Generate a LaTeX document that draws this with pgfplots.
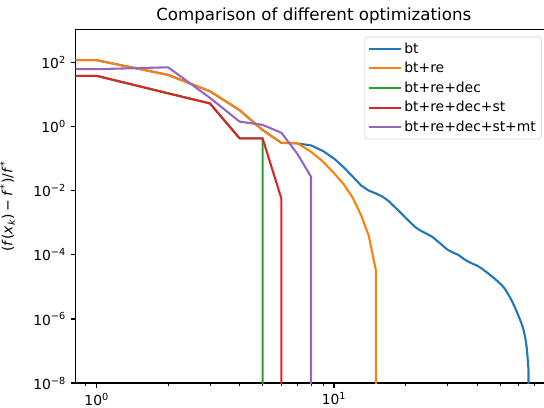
\documentclass[border=0pt]{standalone}
\usepackage{fontspec}
\setmainfont{DejaVu Sans}
\usepackage{pgfplots}
\pgfplotsset{compat=1.18}

\definecolor{cbt}{HTML}{1F77B4}
\definecolor{cre}{HTML}{FF7F0E}
\definecolor{cdec}{HTML}{2CA02C}
\definecolor{cst}{HTML}{D62728}
\definecolor{cmt}{HTML}{9467BD}

\begin{document}
\begin{tikzpicture}
\begin{axis}[
  name=ax,
  scale only axis,
  width=337.2pt, height=254.7pt,
  xmode=log, ymode=log,
  xmin=0.8155, xmax=76.7,
  ymin=1e-8, ymax=1107,
  axis y line*=left,
  axis line style={-, line width=0.8pt},
  xtick pos=left, xticklabel pos=left,
  xtick={1,10},
  xticklabels={10\textsuperscript{0},10\textsuperscript{1}},
  minor xtick={0.9,2,3,4,5,6,7,8,9,20,30,40,50,60,70},
  ytick={1e-8,1e-6,1e-4,1e-2,1,1e2},
  yticklabels={10\textsuperscript{−8},10\textsuperscript{−6},10\textsuperscript{−4},10\textsuperscript{−2},10\textsuperscript{0},10\textsuperscript{2}},
  yminorticks=false,
  tick align=outside,
  major tick length=3.5pt, minor tick length=2pt,
  major tick style={black, line width=0.8pt},
  minor tick style={black, line width=0.6pt},
  ticklabel style={font=\fontsize{10}{12}\selectfont},
  title={Comparison of different optimizations},
  every axis title/.style={at={(axis description cs:0.5084,1)}, anchor=base,
    yshift=6pt, font=\fontsize{12}{14}\selectfont},
  ylabel={(\textit{f}(\textit{x}\textsubscript{\textit{k}})\kern2pt−\kern2pt\textit{f}\textsuperscript{\kern0.5pt*})/\textit{f}\textsuperscript{\kern0.5pt*}},
  ylabel style={at={(axis description cs:-0.119,0.5)}, rotate=0, anchor=south,
    font=\fontsize{10}{12}\selectfont},
  legend cell align=left,
  legend style={at={(axis description cs:0.995,0.979)}, anchor=north east,
    draw=black!20, fill=white, rounded corners=2pt,
    font=\fontsize{10}{12}\selectfont,
    inner xsep=2pt, inner ysep=2pt, row sep=1pt},
  legend image code/.code={\draw[#1] (0pt,0pt) -- (20pt,0pt); \path (0pt,0pt) -- (23pt,0pt);},
  every axis plot/.append style={line width=1.5pt, line join=round},
]
% bt
\addplot[cbt] coordinates {
(0.5,120) (1,120) (2,41.7) (3,12.9) (4,3.31) (5,0.794) (6,0.316) (7,0.302)
(8,0.263) (9,0.174) (10,0.102) (11,0.0537) (12,0.0275) (13,0.0148) (14,0.0102)
(15,0.00832) (16,0.00661) (17,0.00479) (18,0.00316) (19,0.00214) (20,0.00145)
(21,0.00102) (22,7.41e-4) (23,5.89e-4) (24,5.01e-4) (25,4.27e-4) (26,3.63e-4)
(27,2.88e-4) (28,2.29e-4) (29,1.82e-4) (30,1.48e-4) (31,1.29e-4) (32,1.15e-4)
(33,1.05e-4) (34,9.12e-5) (35,7.76e-5) (36,6.76e-5) (37,6.03e-5) (38,5.50e-5)
(39,5.01e-5) (40,4.68e-5) (41,4.17e-5) (42,3.72e-5) (43,3.24e-5) (44,2.88e-5)
(45,2.51e-5) (46,2.19e-5) (47,1.95e-5) (48,1.70e-5) (49,1.48e-5) (50,1.29e-5)
(51,1.12e-5) (52,9.55e-6) (53,7.76e-6) (54,6.17e-6) (55,4.90e-6) (56,3.80e-6)
(57,2.88e-6) (58,2.19e-6) (59,1.62e-6) (60,1.20e-6) (61,8.91e-7) (62,6.46e-7)
(63,4.37e-7) (64,2.51e-7) (65,1.12e-7) (66,2.51e-8) (66,1e-12)
};
\addlegendentry{bt}
% bt+re
\addplot[cre] coordinates {
(0.5,120) (1,120) (2,41.7) (3,12.9) (4,3.31) (5,0.794) (6,0.316) (7,0.309)
(8,0.166) (9,0.0813) (10,0.0355) (11,0.0158) (12,6.03e-3) (13,1.74e-3)
(14,3.98e-4) (15,3.39e-5) (15,1e-12)
};
\addlegendentry{bt+re}
% bt+re+dec
\addplot[cdec] coordinates {
(0.5,39) (1,39) (2,11.1) (3,5.37) (4,0.436) (5,0.436) (5,1e-12)
};
\addlegendentry{bt+re+dec}
% bt+re+dec+st
\addplot[cst] coordinates {
(0.5,39) (1,39) (2,11.1) (3,5.37) (4,0.436) (5,0.436) (6,5.75e-3) (6,1e-12)
};
\addlegendentry{bt+re+dec+st}
% bt+re+dec+st+mt
\addplot[cmt] coordinates {
(0.5,63) (1,63) (2,72) (3,8.0) (4,1.45) (5,1.15) (6,0.65) (7,0.145)
(8,0.0275) (8,1e-12)
};
\addlegendentry{bt+re+dec+st+mt}
\end{axis}
\pgfresetboundingbox
\path ([xshift=-54.5pt,yshift=-17.3pt]ax.south west) rectangle ([yshift=21.1pt]ax.north east);
\end{tikzpicture}
\end{document}
